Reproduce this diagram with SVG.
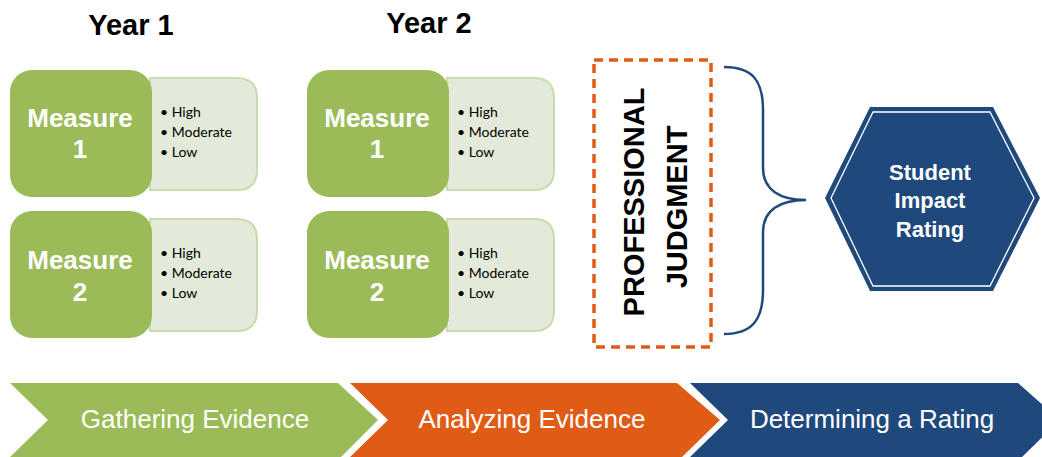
<svg xmlns="http://www.w3.org/2000/svg" width="1042" height="457" viewBox="0 0 1042 457">
<defs>
<style>
.year{font-family:"Liberation Sans",Arial,sans-serif;font-weight:bold;font-size:29px;fill:#000;text-anchor:middle}
.meas{font-family:"Liberation Sans",Arial,sans-serif;font-weight:bold;font-size:26px;fill:#fff;text-anchor:middle}
.bul{font-family:Lato,"Open Sans",sans-serif;font-size:14px;fill:#000}
.gbox{fill:#9bbb59}
.lbox{fill:#e3ead9;stroke:#c9dcae;stroke-width:2}
.pj{font-family:"Liberation Sans",Arial,sans-serif;font-weight:bold;font-size:29px;fill:#000;text-anchor:middle}
.hex{font-family:"Liberation Sans",Arial,sans-serif;font-weight:bold;font-size:22px;fill:#fff;text-anchor:middle}
.step{font-family:"Liberation Sans",Arial,sans-serif;font-size:26px;fill:#fff;text-anchor:middle}
</style>
<g id="measure-tpl">
<path class="lbox" d="M140,8 H227 Q247,8 247,28 V100 Q247,120 227,120 H140 Z"/>
<rect class="gbox" x="0" y="0" width="142" height="127" rx="22"/>
<text class="bul" x="150" y="47">• High</text>
<text class="bul" x="150" y="67">• Moderate</text>
<text class="bul" x="150" y="87">• Low</text>
</g>
</defs>
<g id="year1-label"><text class="year" x="131" y="35">Year 1</text></g>
<g id="year2-label"><text class="year" x="429" y="33">Year 2</text></g>

<g id="y1-measure1" transform="translate(10,70)">
<use href="#measure-tpl"/>
<text class="meas" x="70" y="57">Measure</text>
<text class="meas" x="70" y="88">1</text>
</g>
<g id="y1-measure2" transform="translate(10,211)">
<use href="#measure-tpl"/>
<text class="meas" x="70" y="58">Measure</text>
<text class="meas" x="70" y="90">2</text>
</g>
<g id="y2-measure1" transform="translate(307,70)">
<use href="#measure-tpl"/>
<text class="meas" x="70" y="57">Measure</text>
<text class="meas" x="70" y="88">1</text>
</g>
<g id="y2-measure2" transform="translate(307,211)">
<use href="#measure-tpl"/>
<text class="meas" x="70" y="58">Measure</text>
<text class="meas" x="70" y="90">2</text>
</g>

<g id="professional-judgment">
<rect x="594" y="60" width="117" height="287" fill="none" stroke="#e05c16" stroke-width="3.5" stroke-dasharray="9,6"/>
<text class="pj" transform="translate(644,202) rotate(-90)">PROFESSIONAL</text>
<text class="pj" transform="translate(687,207) rotate(-90)">JUDGMENT</text>
</g>

<g id="connectors">
<path d="M724,67 C752,67 763,80 763,110 V168 C763,190 780,200 806,200 C780,200 763,210 763,232 V290 C763,320 752,334 724,334" fill="none" stroke="#1f497d" stroke-width="2.5"/>
</g>

<g id="student-impact-rating">
<polygon points="825,198 870,107 993,107 1040,198 993,291 870,291" fill="#1f497d"/>
<polygon points="831,198 873,112 990,112 1034,198 990,286 873,286" fill="none" stroke="#fff" stroke-width="1.3"/>
<text class="hex" x="930" y="180">Student</text>
<text class="hex" x="930" y="208">Impact</text>
<text class="hex" x="930" y="237">Rating</text>
</g>

<g id="step-gathering">
<polygon points="10,383 338,383 378,420 341,457 10,457 48,420" fill="#9bbb59"/>
<text class="step" x="195" y="428">Gathering Evidence</text>
</g>
<g id="step-analyzing">
<polygon points="350,383 677,383 720,420 682,457 350,457 388,420" fill="#e05c16"/>
<text class="step" x="532" y="428">Analyzing Evidence</text>
</g>
<g id="step-determining">
<polygon points="690,383 1018,383 1060,420 1022,457 690,457 728,420" fill="#1f497d"/>
<text class="step" x="872" y="428">Determining a Rating</text>
</g>
</svg>
